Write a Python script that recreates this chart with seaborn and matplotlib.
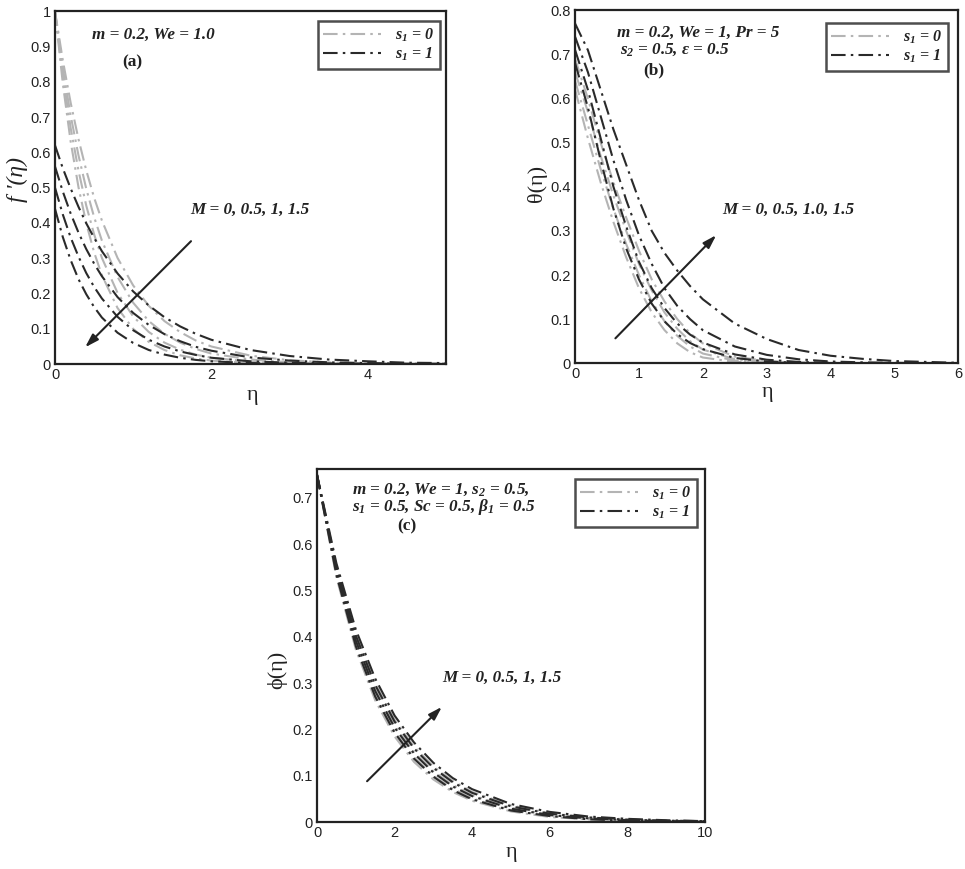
import numpy as np
import pandas as pd
import seaborn as sns
import matplotlib
matplotlib.use("Agg")
import matplotlib.pyplot as plt
from matplotlib.lines import Line2D

# ---------------- data ----------------
M_values = [0, 0.5, 1, 1.5]
s1_values = [0, 1]

# (a) velocity profiles f'(eta)
eta_a = [0, 0.1, 0.2, 0.3, 0.4, 0.5, 0.6, 0.8, 1.0, 1.2, 1.4, 1.6, 1.8, 2.0,
         2.5, 3.0, 3.5, 4.0, 4.5, 5.0]
fa_s0 = [
    [1.0, 0.861, 0.741, 0.638, 0.549, 0.472, 0.407, 0.301, 0.223, 0.165, 0.122, 0.091, 0.067, 0.050, 0.024, 0.011, 0.005, 0.002, 0.001, 0.001],
    [1.0, 0.839, 0.705, 0.592, 0.497, 0.417, 0.350, 0.247, 0.174, 0.122, 0.086, 0.061, 0.043, 0.030, 0.013, 0.005, 0.002, 0.001, 0.000, 0.000],
    [1.0, 0.819, 0.670, 0.549, 0.449, 0.368, 0.301, 0.202, 0.135, 0.091, 0.061, 0.041, 0.027, 0.018, 0.007, 0.002, 0.001, 0.000, 0.000, 0.000],
    [1.0, 0.795, 0.631, 0.502, 0.399, 0.317, 0.252, 0.159, 0.100, 0.063, 0.040, 0.025, 0.016, 0.010, 0.003, 0.001, 0.000, 0.000, 0.000, 0.000],
]
fa_s1 = [
    [0.620, 0.555, 0.498, 0.446, 0.399, 0.358, 0.320, 0.257, 0.206, 0.166, 0.133, 0.107, 0.086, 0.069, 0.040, 0.023, 0.013, 0.008, 0.004, 0.003],
    [0.560, 0.489, 0.427, 0.373, 0.326, 0.285, 0.249, 0.190, 0.145, 0.111, 0.085, 0.065, 0.049, 0.038, 0.019, 0.010, 0.005, 0.003, 0.001, 0.001],
    [0.500, 0.424, 0.359, 0.305, 0.258, 0.219, 0.186, 0.134, 0.096, 0.069, 0.050, 0.036, 0.026, 0.018, 0.008, 0.004, 0.002, 0.001, 0.000, 0.000],
    [0.440, 0.360, 0.295, 0.241, 0.198, 0.162, 0.132, 0.089, 0.060, 0.040, 0.027, 0.018, 0.012, 0.008, 0.003, 0.001, 0.000, 0.000, 0.000, 0.000],
]

# (b) temperature profiles theta(eta)
eta_b = [0, 0.2, 0.4, 0.6, 0.8, 1.0, 1.2, 1.4, 1.6, 1.8, 2.0, 2.5, 3.0, 3.5,
         4.0, 4.5, 5.0, 5.5, 6.0]
tb_s0 = [
    [0.62, 0.51, 0.41, 0.32, 0.24, 0.17, 0.115, 0.075, 0.045, 0.025, 0.013, 0.003, 0.001, 0.0, 0.0, 0.0, 0.0, 0.0, 0.0],
    [0.64, 0.54, 0.44, 0.35, 0.27, 0.20, 0.14, 0.095, 0.062, 0.038, 0.022, 0.006, 0.002, 0.0, 0.0, 0.0, 0.0, 0.0, 0.0],
    [0.66, 0.57, 0.47, 0.38, 0.30, 0.225, 0.165, 0.115, 0.078, 0.050, 0.031, 0.009, 0.003, 0.001, 0.0, 0.0, 0.0, 0.0, 0.0],
    [0.69, 0.60, 0.50, 0.41, 0.33, 0.255, 0.19, 0.14, 0.10, 0.068, 0.045, 0.015, 0.005, 0.001, 0.0, 0.0, 0.0, 0.0, 0.0],
]
tb_s1 = [
    [0.68, 0.58, 0.46, 0.35, 0.26, 0.19, 0.135, 0.095, 0.066, 0.046, 0.032, 0.012, 0.004, 0.001, 0.0, 0.0, 0.0, 0.0, 0.0],
    [0.71, 0.62, 0.51, 0.40, 0.31, 0.23, 0.17, 0.125, 0.09, 0.065, 0.047, 0.020, 0.008, 0.003, 0.001, 0.0, 0.0, 0.0, 0.0],
    [0.74, 0.66, 0.56, 0.46, 0.37, 0.29, 0.225, 0.17, 0.13, 0.10, 0.075, 0.038, 0.019, 0.009, 0.004, 0.002, 0.001, 0.0, 0.0],
    [0.77, 0.71, 0.62, 0.53, 0.45, 0.37, 0.30, 0.25, 0.21, 0.175, 0.145, 0.09, 0.055, 0.030, 0.017, 0.010, 0.005, 0.003, 0.001],
]

# (c) concentration profiles phi(eta)
eta_c = [0, 0.5, 1, 1.5, 2, 2.5, 3, 3.5, 4, 5, 6, 7, 8, 9, 10]
pc_s0 = [
    [0.750, 0.529, 0.373, 0.263, 0.185, 0.130, 0.092, 0.065, 0.046, 0.023, 0.011, 0.006, 0.003, 0.001, 0.001],
    [0.750, 0.536, 0.384, 0.275, 0.196, 0.140, 0.100, 0.072, 0.051, 0.026, 0.013, 0.007, 0.004, 0.002, 0.001],
    [0.750, 0.545, 0.395, 0.287, 0.209, 0.151, 0.110, 0.080, 0.058, 0.031, 0.016, 0.008, 0.004, 0.002, 0.001],
    [0.750, 0.553, 0.407, 0.300, 0.221, 0.163, 0.120, 0.089, 0.065, 0.036, 0.019, 0.010, 0.006, 0.003, 0.002],
]
pc_s1 = [
    [0.750, 0.534, 0.380, 0.271, 0.193, 0.137, 0.098, 0.069, 0.049, 0.025, 0.013, 0.006, 0.003, 0.002, 0.001],
    [0.750, 0.542, 0.392, 0.283, 0.204, 0.148, 0.107, 0.077, 0.056, 0.029, 0.015, 0.008, 0.004, 0.002, 0.001],
    [0.750, 0.550, 0.403, 0.296, 0.217, 0.159, 0.117, 0.086, 0.063, 0.034, 0.018, 0.010, 0.005, 0.003, 0.002],
    [0.750, 0.559, 0.416, 0.310, 0.230, 0.172, 0.128, 0.095, 0.071, 0.039, 0.022, 0.012, 0.007, 0.004, 0.002],
]

# ---------------- style ----------------
sns.set_style("white")
plt.rcParams.update({
    "font.family": ["Liberation Sans", "DejaVu Sans"],
    "axes.edgecolor": "#222222",
    "axes.linewidth": 1.6,
    "xtick.direction": "in",
    "ytick.direction": "in",
    "xtick.color": "#222222",
    "ytick.color": "#222222",
    "xtick.major.size": 4,
    "ytick.major.size": 4,
    "mathtext.fontset": "custom",
    "mathtext.rm": "Liberation Serif:bold:italic",
    "mathtext.it": "Liberation Serif:bold:italic",
    "mathtext.bf": "Liberation Serif:bold:italic",
})

C_LIGHT = "#b4b4b4"
C_DARK = "#2a2a2a"
LS = (0, (7, 2.5, 1.2, 2.5))
LW = 1.5

ann = dict(family="Liberation Serif", style="italic", weight="bold", fontsize=12.3, color="#222222")
tag = dict(family="Liberation Serif", weight="bold", fontsize=12.5, color="#222222")
lab = dict(family="Liberation Serif", fontsize=16, color="#222222")

fig = plt.figure(figsize=(9.65, 8.69), dpi=100)
fig.patch.set_facecolor("white")


def make_frame(eta, curves_s0, curves_s1):
    rows = []
    for s1, curves in zip(s1_values, [curves_s0, curves_s1]):
        for M, vals in zip(M_values, curves):
            for e, v in zip(eta, vals):
                rows.append({"eta": e, "value": v, "M": M, "s1": s1})
    return pd.DataFrame(rows)


def draw_panel(ax, df):
    for (s1, M), grp in df.groupby(["s1", "M"]):
        sns.lineplot(data=grp, x="eta", y="value", ax=ax, estimator=None, sort=False,
                     color=C_LIGHT if s1 == 0 else C_DARK, linestyle=LS, lw=LW)
    ax.set_xlabel("")
    ax.set_ylabel("")
    for sp in ax.spines.values():
        sp.set_visible(True)
    ax.tick_params(labelsize=10.5, pad=3)


def add_legend(ax, bbox):
    handles = [Line2D([], [], color=C_LIGHT, linestyle=LS, lw=LW),
               Line2D([], [], color=C_DARK, linestyle=LS, lw=LW)]
    leg = ax.legend(handles, ["$s_1$ = 0", "$s_1$ = 1"], loc="upper right",
                    bbox_to_anchor=bbox, bbox_transform=fig.transFigure,
                    frameon=True, fancybox=False, handlelength=3.6, handletextpad=0.9,
                    borderpad=0.35, labelspacing=0.1, fontsize=11.5,
                    borderaxespad=0.0)
    leg.get_frame().set_edgecolor("#222222")
    leg.get_frame().set_linewidth(1.8)
    for t in leg.get_texts():
        t.set_fontfamily("Liberation Serif")
        t.set_fontstyle("italic")
        t.set_fontweight("bold")
        t.set_color("#222222")


def px(x, y):
    return x / 965.0, 1 - y / 869.0


arrow_kw = dict(arrowstyle="-|>,head_length=0.8,head_width=0.25", color="#222222", lw=1.5)

# ---------- (a) ----------
ax_a = fig.add_axes([0.057, 0.581, 0.405, 0.406])
draw_panel(ax_a, make_frame(eta_a, fa_s0, fa_s1))
ax_a.set_xlim(0, 5)
ax_a.set_ylim(0, 1)
ax_a.set_xticks([0, 2, 4])
ax_a.set_yticks(np.arange(0, 1.01, 0.1))
ax_a.set_yticklabels(["0", "0.1", "0.2", "0.3", "0.4", "0.5", "0.6", "0.7", "0.8", "0.9", "1"])
ax_a.set_xticklabels(["0", "2", "4"])
ax_a.annotate("", xy=(0.36, 0.042), xytext=(1.765, 0.354), arrowprops=arrow_kw)
fig.text(*px(92, 35), "m = 0.2, We = 1.0", ha="left", va="center", **ann)
fig.text(*px(122, 62), "(a)", ha="left", va="center", **tag)
fig.text(*px(190, 210), "M = 0, 0.5, 1, 1.5", ha="left", va="center", **ann)
fig.text(*px(17, 180), "f '(η)", rotation=90, ha="center", va="center",
         family="Liberation Serif", style="italic", fontsize=17, color="#222222")
fig.text(*px(252, 395), "η", ha="center", va="center", **lab)
add_legend(ax_a, px(440, 21))

# ---------- (b) ----------
ax_b = fig.add_axes([0.596, 0.582, 0.397, 0.406])
draw_panel(ax_b, make_frame(eta_b, tb_s0, tb_s1))
ax_b.set_xlim(0, 6)
ax_b.set_ylim(0, 0.8)
ax_b.set_xticks(range(0, 7))
ax_b.set_yticks(np.arange(0, 0.81, 0.1))
ax_b.set_yticklabels(["0", "0.1", "0.2", "0.3", "0.4", "0.5", "0.6", "0.7", "0.8"])
ax_b.annotate("", xy=(2.24, 0.295), xytext=(0.60, 0.052), arrowprops=arrow_kw)
fig.text(*px(617, 33), "m = 0.2, We = 1, Pr = 5", ha="left", va="center", **ann)
fig.text(*px(620, 50), "$s_2$ = 0.5, ε = 0.5", ha="left", va="center", **ann)
fig.text(*px(643, 70), "(b)", ha="left", va="center", **tag)
fig.text(*px(722, 210), "M = 0, 0.5, 1.0, 1.5", ha="left", va="center", **ann)
fig.text(*px(537, 183), "θ(η)", rotation=90, ha="center", va="center", **lab)
fig.text(*px(768, 393), "η", ha="center", va="center", **lab)
add_legend(ax_b, px(948, 23))

# ---------- (c) ----------
ax_c = fig.add_axes([0.3285, 0.054, 0.402, 0.406])
draw_panel(ax_c, make_frame(eta_c, pc_s0, pc_s1))
ax_c.set_xlim(0, 10)
ax_c.set_ylim(0, 0.762)
ax_c.set_xticks(range(0, 11, 2))
ax_c.set_yticks(np.arange(0, 0.71, 0.1))
ax_c.set_yticklabels(["0", "0.1", "0.2", "0.3", "0.4", "0.5", "0.6", "0.7"])
ax_c.annotate("", xy=(3.27, 0.253), xytext=(1.24, 0.084), arrowprops=arrow_kw)
fig.text(*px(352, 490), "m = 0.2, We = 1, $s_2$ = 0.5,", ha="left", va="center", **ann)
fig.text(*px(352, 507), "$s_1$ = 0.5, Sc = 0.5, β$_1$ = 0.5", ha="left", va="center", **ann)
fig.text(*px(397, 526), "(c)", ha="left", va="center", **tag)
fig.text(*px(442, 678), "M = 0, 0.5, 1, 1.5", ha="left", va="center", **ann)
fig.text(*px(277, 670), "ϕ(η)", rotation=90, ha="center", va="center", **lab)
fig.text(*px(511, 853), "η", ha="center", va="center", **lab)
add_legend(ax_c, px(697, 479))

fig.savefig("out.png", dpi=100, facecolor="white")
